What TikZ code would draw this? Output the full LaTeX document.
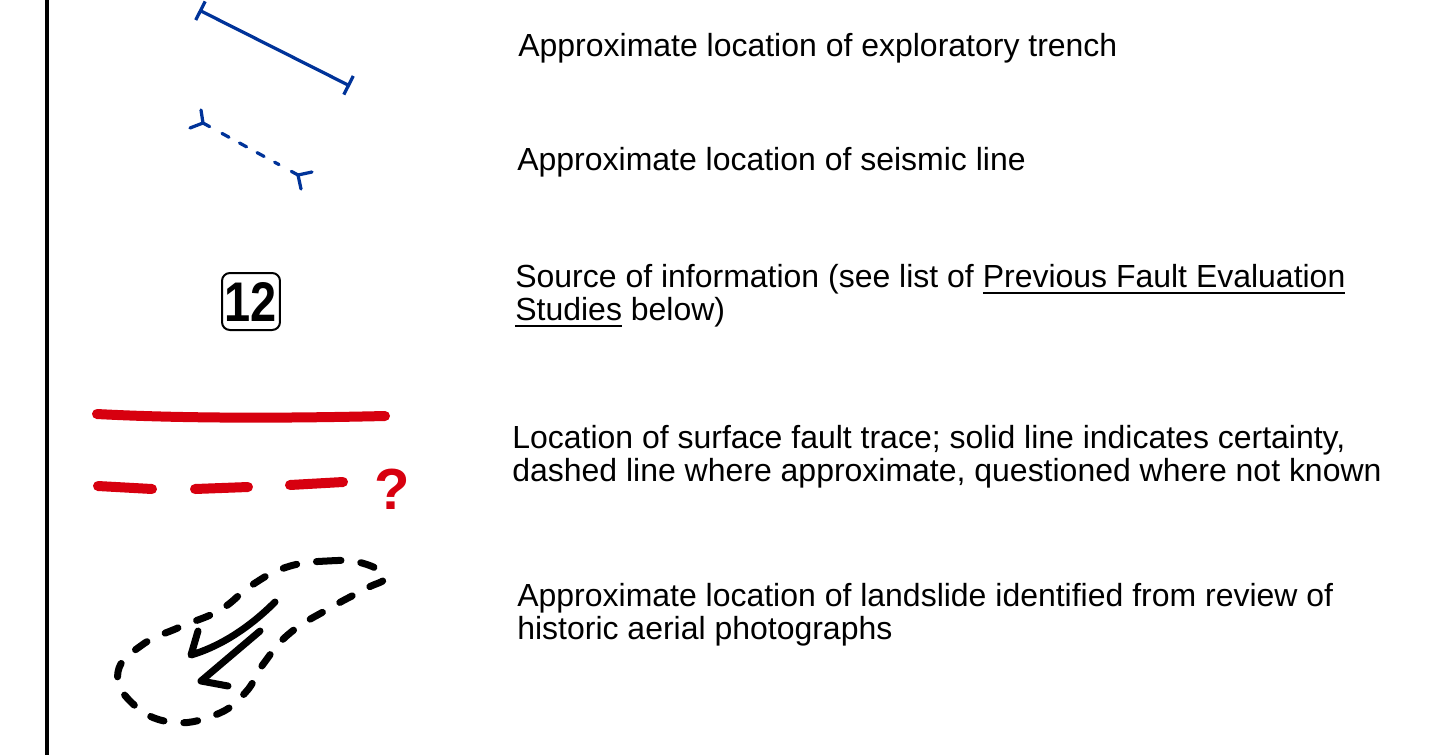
\documentclass[tikz,border=0pt]{standalone}
\usepackage{fontspec}
\setmainfont{Liberation Sans}
\usetikzlibrary{arrows.meta,positioning,calc}
\definecolor{trenchblue}{HTML}{003399}
\definecolor{faultred}{HTML}{D7000F}
\newcommand\ulinetext[1]{\setbox0\hbox{#1}\rlap{\raisebox{-3.7pt}{\rule{\wd0}{1.1pt}}}\box0}

\begin{document}
\begin{tikzpicture}[
  x=0.02cm, y=-0.02cm,
  legendtxt/.style={anchor=base west, inner sep=0pt, align=left, font=\fontsize{18.2}{18.6}\selectfont},
  trench/.style={trenchblue, line width=0.065cm, line cap=round, {Bar[width=0.42cm]}-{Bar[width=0.42cm]}},
  seismic/.style={trenchblue, line width=0.065cm, line cap=round},
  fault/.style={faultred, line width=0.2cm, line cap=round},
  slide/.style={black, line width=0.14cm, line cap=round, line join=round},
  srcbox/.style={draw, line width=0.04cm, rounded corners=4.5pt, minimum width=1.16cm, minimum height=1.14cm, inner sep=0pt},
]
\useasboundingbox (0,0) rectangle (1429,754);
% frame line on the left
\coordinate (ltop) at (47,-5);
\coordinate (lbot) at (47,760);
\draw[line width=0.08cm] (ltop) -- (lbot);

% trench
\coordinate (t1) at (199,10);
\coordinate (t2) at (350,86);
\draw[trench] (t1) -- (t2);
\node[legendtxt] (trenchtxt) at (518,56.7) {Approximate location of exploratory trench};

% seismic line
\coordinate (s1) at (203,123);
\coordinate (s2) at (298,175);
\coordinate (s1in) at ($(s1)!0.2!(s2)$);
\coordinate (s2in) at ($(s2)!0.2!(s1)$);
\draw[seismic, dash pattern=on 0.16cm off 0.24cm] (s1in) -- (s2in);
\draw[seismic] (s1) -- ($(s1)!0.07!(s2)$);
\draw[seismic] (s2) -- ($(s2)!0.07!(s1)$);
\draw[seismic] (s1) -- ++(-2,-13);
\draw[seismic] (s1) -- ++(-13,5);
\draw[seismic] (s2) -- ++(14,-3);
\draw[seismic] (s2) -- ++(3,14);
\node[legendtxt] (seismictxt) at (517,170) {Approximate location of seismic line};

% source of information
\node[srcbox] (src) at (251,301.5) {\fontsize{31.8}{32}\selectfont\bfseries\scalebox{0.84}[1]{12}};
\node[legendtxt] (srctxt) at (515,320) {Source of information (see list of \ulinetext{Previous Fault Evaluation}\\\ulinetext{Studies}\ below)};

% fault trace
\coordinate (f1) at (97,414);
\coordinate (f2) at (385,416);
\draw[fault] (f1) .. controls (190,419) and (300,418) .. (f2);
\draw[fault] (98,486) -- (152,489);
\draw[fault] (195,489) -- (248,487);
\draw[fault] (290,485) -- (343,482);
\node[anchor=base, inner sep=0pt, text=faultred, font=\fontsize{33}{33}\selectfont\bfseries] (qmark) at (392,509) {?};
\node[legendtxt] (faulttxt) at (512,481) {Location of surface fault trace; solid line indicates certainty,\\dashed line where approximate, questioned where not known};

% landslide
\draw[slide, dash pattern=on 0.28cm off 0.4cm] plot[smooth cycle, tension=0.75] coordinates {
  (287,567) (327,561) (362,563) (385,577) (365,589) (330,608) (290,633)
  (264,663) (245,693) (215,715) (170,722) (132,703) (118,672) (142,645)
  (180,627) (220,610) (252,585)};
\draw[slide] (198,631) -- (191,655) .. controls (215,648) and (245,632) .. (275,602);
\draw[slide] (260,631) -- (201,681) -- (228,686);
\node[legendtxt] (slidetxt) at (517,639) {Approximate location of landslide identified from review of\\historic aerial photographs};
\end{tikzpicture}
\end{document}
